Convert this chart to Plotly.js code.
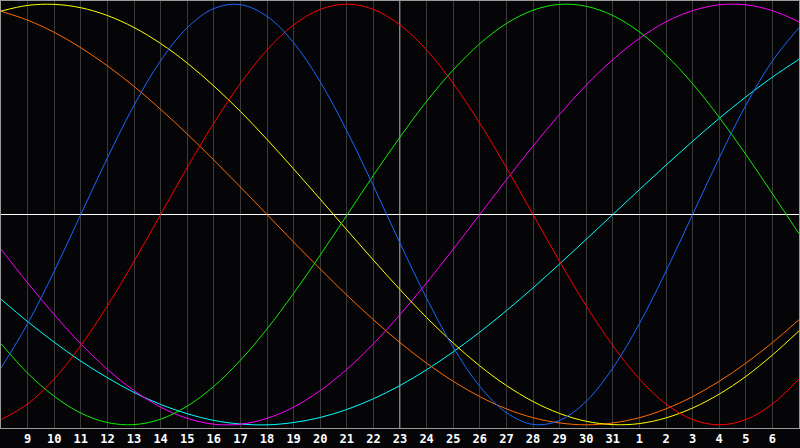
<!DOCTYPE html>
<html>
<head>
<meta charset="utf-8">
<script src="https://cdn.plot.ly/plotly-3.0.1.min.js"></script>
<style>
  html, body { margin: 0; padding: 0; background: #050508; }
  #chart { width: 800px; height: 448px; }
</style>
</head>
<body>
<div id="chart"></div>
<script>
// ---- DAYS (first and last one sit on the plot edges, no label)
const days = [8, 9, 10, 11, 12, 13, 14, 15, 16, 17, 18, 19, 20, 21, 22, 23,
  24, 25, 26, 27, 28, 29, 30, 31, 1, 2, 3, 4, 5, 6, 7];
const todayIdx = 15; // day 23, white crosshair

// ---- CURVES (percent, -100..100, one value per day)
const physical = [-73.0, -51.9, -27.0, 0, 26.9, 51.9, 73.1, 88.8, 97.9, 99.8, 94.2, 81.7, 63.1, 39.8, 13.6, -13.6,
  -39.8, -63.1, -81.7, -94.2, -99.8, -97.9, -88.8, -73.0, -51.9, -27.0, 0, 26.9, 51.9, 73.0, 88.8];
const emotional = [-97.5, -90.1, -78.2, -62.3, -43.4, -22.3, 0, 22.3, 43.4, 62.3, 78.2, 90.1, 97.5, 100, 97.5, 90.1,
  78.2, 62.3, 43.4, 22.3, 0, -22.3, -43.4, -62.3, -78.2, -90.1, -97.5, -100, -97.5, -90.1, -78.2];
const intellectual = [-61.4, -75.4, -86.4, -94.4, -98.9, -99.9, -97.3, -91.1, -81.7, -69.3, -54.4, -37.5, -19.3, -0.4, 18.6, 36.8,
  53.8, 68.7, 81.2, 90.8, 97.1, 99.9, 99.0, 94.6, 86.8, 75.8, 62.2, 46.2, 28.6, 9.9, -9.1];
const intuitive = [-16.5, -32.5, -47.6, -61.5, -73.6, -83.7, -91.6, -96.9, -99.7, -99.7, -96.9, -91.6, -83.7, -73.6, -61.5, -47.6,
  -32.5, -16.5, 0, 16.5, 32.5, 47.6, 61.5, 73.6, 83.7, 91.6, 96.9, 99.7, 99.7, 96.9, 91.6];
const aesthetic = [96.7, 99.4, 99.9, 98.3, 94.6, 88.9, 81.3, 72.0, 61.1, 49.0, 35.7, 21.7, 7.3, -7.3, -21.7, -35.7,
  -49.0, -61.1, -72.0, -81.3, -88.9, -94.6, -98.3, -99.9, -99.4, -96.7, -92.0, -85.4, -77.0, -66.8, -55.3];
const awareness = [96.6, 92.4, 86.6, 79.3, 70.7, 60.9, 50.0, 38.3, 25.9, 13.1, 0, -13.1, -25.9, -38.3, -50.0, -60.9,
  -70.7, -79.3, -86.6, -92.4, -96.6, -99.1, -100, -99.1, -96.6, -92.4, -86.6, -79.3, -70.7, -60.9, -50.0];
const spiritual = [-40.3, -50.9, -60.7, -69.7, -77.6, -84.6, -90.3, -94.7, -97.9, -99.6, -100, -98.9, -96.5, -92.7, -87.6, -81.3,
  -73.8, -65.3, -55.9, -45.7, -34.9, -23.5, -11.8, 0, 11.8, 23.5, 34.8, 45.7, 55.9, 65.3, 73.8];

const idx = days.map((d, i) => i);

function curve(values, color) {
  return {
    x: idx,
    y: values,
    type: 'scatter',
    mode: 'lines',
    line: { color: color, width: 1, shape: 'spline', smoothing: 1 },
    hoverinfo: 'skip'
  };
}

const data = [
  curve(spiritual, '#00ffff'),
  curve(intuitive, '#ff00ff'),
  curve(awareness, '#ff6a00'),
  curve(aesthetic, '#ffff00'),
  curve(intellectual, '#10ee00'),
  curve(emotional, '#ff0000'),
  curve(physical, '#1a66ff')
];

const layout = {
  width: 800,
  height: 448,
  margin: { l: 1, r: 1, t: 1, b: 20 },
  paper_bgcolor: '#050508',
  plot_bgcolor: '#050508',
  showlegend: false,
  xaxis: {
    range: [0, days.length - 1],
    tickvals: idx.slice(1, -1),
    ticktext: days.slice(1, -1).map(String),
    tickfont: { family: 'DejaVu Sans Mono', size: 12, color: '#ffffff', weight: 'bold' },
    ticks: '',
    ticklen: 0,
    showgrid: true,
    gridcolor: '#3a3a3a',
    gridwidth: 1,
    zeroline: false,
    showline: true,
    linecolor: '#9a9a9a',
    linewidth: 1,
    mirror: true,
    fixedrange: true
  },
  yaxis: {
    range: [-101.5, 101.5],
    showticklabels: false,
    ticks: '',
    showgrid: false,
    zeroline: true,
    zerolinecolor: '#ffffff',
    zerolinewidth: 1,
    showline: true,
    linecolor: '#9a9a9a',
    linewidth: 1,
    mirror: true,
    fixedrange: true
  },
  shapes: [
    { type: 'line', xref: 'x', yref: 'paper', x0: todayIdx, x1: todayIdx, y0: 0, y1: 1,
      line: { color: '#ffffff', width: 1 }, layer: 'below' }
  ]
};

Plotly.newPlot('chart', data, layout, { displayModeBar: false, staticPlot: true });
</script>
</body>
</html>
